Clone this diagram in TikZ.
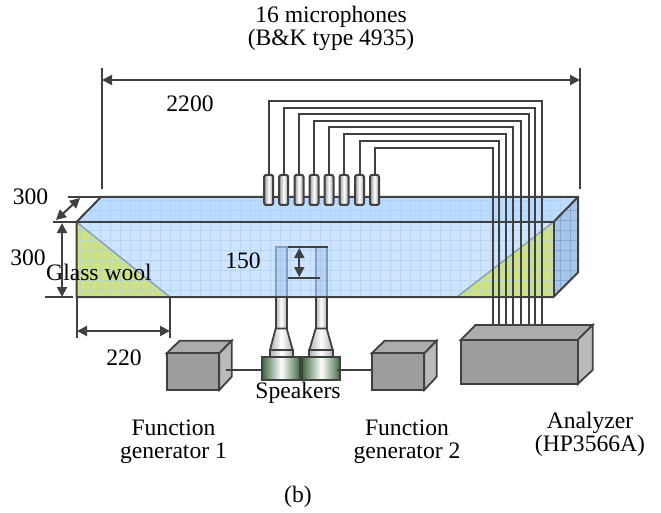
\documentclass[tikz,border=0pt]{standalone}
\usepackage{fontspec}
\setmainfont{Liberation Serif}
\usetikzlibrary{arrows.meta}
\definecolor{linecol}{HTML}{404040}
\definecolor{topcol}{HTML}{BCDCFF}
\definecolor{frontcol}{HTML}{CFE5FF}
\definecolor{sidecol}{HTML}{A9C6E8}
\definecolor{woolcol}{HTML}{CFE283}
\definecolor{gridcol}{HTML}{A9D0F8}
\definecolor{sidegrid}{HTML}{82AAD8}
\definecolor{tubecol}{HTML}{7F9FC4}
\definecolor{spkcol}{HTML}{3F6A3F}
\tikzset{
  txt/.style={font=\fontsize{23.6}{23}\selectfont,text=black,inner sep=0pt,align=center},
  line/.style={draw=linecol,line width=2pt},
  wire/.style={draw=linecol,line width=2pt},
  dim/.style={draw=linecol,line width=2pt,{Triangle[length=10pt,width=10pt]}-{Triangle[length=10pt,width=10pt]}},
  mic/.style={draw=linecol,line width=2pt,rounded corners=2pt,left color=gray!80,right color=gray!80,middle color=white},
  tube/.style={draw=linecol,line width=1.8pt,left color=gray!60,right color=gray!60,middle color=white},
  spk/.style={draw=linecol,line width=1.8pt,left color=spkcol,right color=spkcol,middle color=white},
  intube/.style={draw=tubecol,line width=1.8pt,fill=tubecol,fill opacity=0.25},
  gfront/.style={draw=linecol,line width=1.8pt,fill=gray!90!black!70},
  gtop/.style={draw=linecol,line width=1.8pt,fill=gray!65},
  gside/.style={draw=linecol,line width=1.8pt,fill=gray!110!black!60}
}
\begin{document}
\begin{tikzpicture}[x=1pt,y=-1pt]
\useasboundingbox (0,0) rectangle (661,513);
% Duct faces
\fill [topcol] (76.5,222) -- (101,197) -- (578,197) -- (553.5,222) -- cycle;
\fill [frontcol] (76.5,222) rectangle (553.5,297);
\fill [sidecol] (553.5,222) -- (578,197) -- (578,272.5) -- (553.5,297) -- cycle;
% Glass wool
\fill [woolcol] (76.5,222) -- (76.5,297) -- (170,297) -- cycle;
\fill [woolcol] (553.5,222) -- (553.5,297) -- (457,297) -- cycle;
% Grid
\begin{scope}
\clip (76.5,222) -- (101,197) -- (578,197) -- (553.5,222) -- (553.5,297) -- (76.5,297) -- cycle;
\draw [gridcol,line width=0.7pt,opacity=0.7,step=10pt] (70,190) grid (560,300);
\end{scope}
\begin{scope}
\clip (553.5,222) -- (578,197) -- (578,272.5) -- (553.5,297) -- cycle;
\draw [sidegrid,line width=0.7pt,step=10pt] (550,190) grid (580,300);
\end{scope}
\draw [tubecol,line width=1.4pt] (76.5,222) -- (170,297);
\draw [tubecol,line width=1.4pt] (553.5,222) -- (457,297);
% Outline
\draw [line] (76.5,222) -- (101,197) -- (578,197) -- (578,272.5) -- (553.5,297) -- (76.5,297) -- cycle;
\draw [line] (76.5,222) -- (553.5,222) -- (553.5,297);
\draw [line] (553.5,222) -- (578,197);
% Speakers
\draw [intube] (275.7,247) rectangle (286.7,297);
\draw [intube] (315.7,247) rectangle (326.7,297);
\shade [tube] (275.7,297) rectangle (286.7,328.5);
\shade [tube] (315.7,297) rectangle (326.7,328.5);
\shade [tube] (275.7,328.5) -- (286.7,328.5) -- (292.7,350) -- (270,350) -- cycle;
\shade [tube] (315.7,328.5) -- (326.7,328.5) -- (332.7,350) -- (309.3,350) -- cycle;
\shade [tube] (270,350) rectangle (292.7,357.3);
\shade [tube] (309.3,350) rectangle (332.7,357.3);
\shade [spk] (262.3,357.3) rectangle (300,380);
\shade [spk] (302.3,357.3) rectangle (340,380);
% Function generators
\draw [gtop] (166.7,353.3) -- (179.7,340.7) -- (231.7,340.7) -- (219.3,353.3) -- cycle;
\draw [gside] (219.3,353.3) -- (231.7,340.7) -- (231.7,376.7) -- (219.3,390) -- cycle;
\draw [gfront] (166.7,353.3) rectangle (219.3,390);
\draw [line] (226,370) -- (262.3,370);
\draw [line] (336.5,370) -- (371.7,370);
\draw [gtop] (371.7,353.3) -- (384.7,340.7) -- (436.7,340.7) -- (424.3,353.3) -- cycle;
\draw [gside] (424.3,353.3) -- (436.7,340.7) -- (436.7,376.7) -- (424.3,390) -- cycle;
\draw [gfront] (371.7,353.3) rectangle (424.3,390);
% Analyzer
\draw [gtop] (460.7,340) -- (475.5,325) -- (592.7,325) -- (577.7,340) -- cycle;
\draw [gside] (577.7,340) -- (592.7,325) -- (592.7,370) -- (577.7,384) -- cycle;
\draw [gfront] (460.7,340) rectangle (577.7,384);
% Wires
\draw [wire] (268.7,175) |- (541.5,101) -- (541.5,325);
\draw [wire] (283.7,175) |- (535,108) -- (535,325);
\draw [wire] (299,175) |- (528.5,114) -- (528.5,325);
\draw [wire] (314,175) |- (521,121) -- (521,325);
\draw [wire] (329,175) |- (513,127) -- (513,325);
\draw [wire] (344,175) |- (506,134) -- (506,325);
\draw [wire] (359.5,175) |- (499,141) -- (499,325);
\draw [wire] (374.5,175) |- (492.7,148) -- (492.7,325);
% Microphones
\shade [mic] (264.2,175) rectangle (273.2,205);
\shade [mic] (279.2,175) rectangle (288.2,205);
\shade [mic] (294.5,175) rectangle (303.5,205);
\shade [mic] (309.5,175) rectangle (318.5,205);
\shade [mic] (324.5,175) rectangle (333.5,205);
\shade [mic] (339.5,175) rectangle (348.5,205);
\shade [mic] (355,175) rectangle (364,205);
\shade [mic] (370,175) rectangle (379,205);
% Dimensions
\draw [line] (102,68) -- (102,189);
\draw [line] (580,68) -- (580,189);
\draw [dim] (102,80) -- (580,80);
\draw [line] (68,197) -- (101,197);
\draw [line] (53,222) -- (76.5,222);
\draw [dim] (56,220) -- (80,198);
\draw [dim] (62,223) -- (62,297);
\draw [line] (45,297) -- (73,297);
\draw [line] (77,298) -- (77,338);
\draw [line] (170,298) -- (170,338);
\draw [dim] (77,331) -- (170,331);
\draw [line] (288,247) -- (327.7,247);
\draw [line] (288,277.7) -- (320,277.7);
\draw [dim] (299.3,248) -- (299.3,277);
% Labels
\node [txt] (micslabel) at (331,28) {16 microphones\\(B\&K type 4935)};
\node [txt] (len) at (190,104) {2200};
\node [txt] (depth) at (30.5,197) {300};
\node [txt] (height) at (28,258) {300};
\node [txt] (wool) at (99,272) {Glass wool};
\node [txt] (mid) at (243,261) {150};
\node [txt] (wedge) at (124,358) {220};
\node [txt] (speakers) at (298,393) {Speakers};
\node [txt] (gen1) at (173.5,441.5) {Function\\generator 1};
\node [txt] (gen2) at (407,441.5) {Function\\generator 2};
\node [txt] (analyzer) at (590,434.5) {Analyzer\\(HP3566A)};
\node [txt] (sub) at (298,497) {(b)};
\end{tikzpicture}
\end{document}
